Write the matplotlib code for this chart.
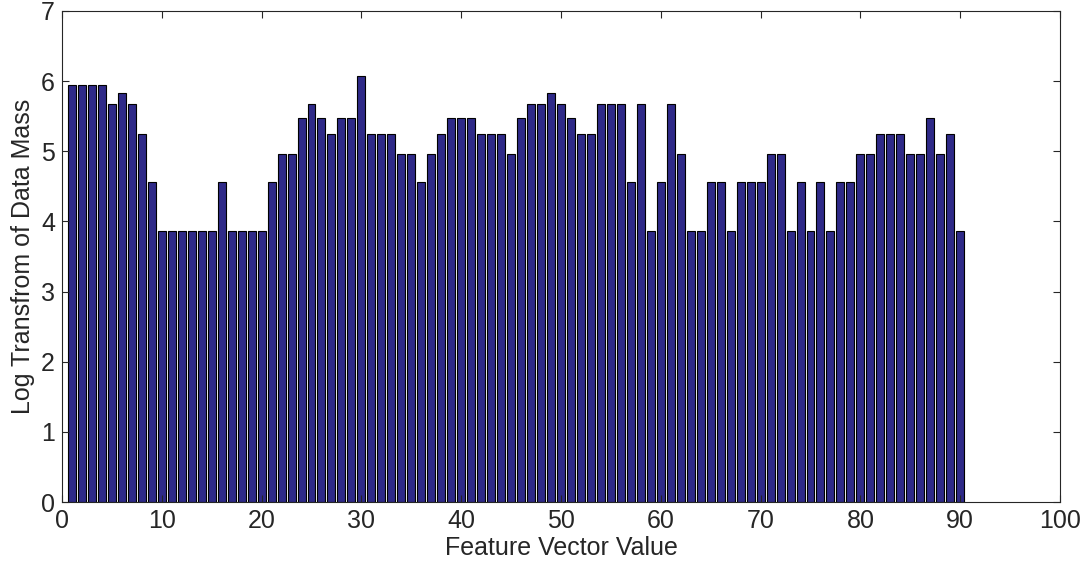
import matplotlib
matplotlib.use("Agg")
import matplotlib.pyplot as plt
import numpy as np

# feature vector values 1..90 and log transform of data mass
feature_values = list(range(1, 91))
log_mass = [
    5.95, 5.95, 5.95, 5.95, 5.67, 5.83, 5.67, 5.25, 4.56, 3.87,
    3.87, 3.87, 3.87, 3.87, 3.87, 4.56, 3.87, 3.87, 3.87, 3.87,
    4.56, 4.96, 4.96, 5.48, 5.67, 5.48, 5.25, 5.48, 5.48, 6.07,
    5.25, 5.25, 5.25, 4.96, 4.96, 4.56, 4.96, 5.25, 5.48, 5.48,
    5.48, 5.25, 5.25, 5.25, 4.96, 5.48, 5.67, 5.67, 5.83, 5.67,
    5.48, 5.25, 5.25, 5.67, 5.67, 5.67, 4.56, 5.67, 3.87, 4.56,
    5.67, 4.96, 3.87, 3.87, 4.56, 4.56, 3.87, 4.56, 4.56, 4.56,
    4.96, 4.96, 3.87, 4.56, 3.87, 4.56, 3.87, 4.56, 4.56, 4.96,
    4.96, 5.25, 5.25, 5.25, 4.96, 4.96, 5.48, 4.96, 5.25, 3.87,
]

plt.rcParams['font.family'] = ['Liberation Sans', 'DejaVu Sans']

fig = plt.figure(figsize=(10.85, 5.65), dpi=100)
ax = fig.add_axes([62 / 1085, 1 - 502 / 565, (1060 - 62) / 1085, (502 - 11) / 565])

ax.bar(feature_values, log_mass, width=0.8, color='#2f2a88', edgecolor='black', linewidth=0.8)

ax.set_xlim(0, 100)
ax.set_ylim(0, 7)
ax.set_xticks(np.arange(0, 101, 10))
ax.set_yticks(np.arange(0, 8, 1))
ax.tick_params(direction='in', top=True, right=True, labelsize=18, length=5, colors='#262626', pad=5)
for s in ax.spines.values():
    s.set_color('#262626')
    s.set_linewidth(0.8)

ax.set_xlabel('Feature Vector Value', fontsize=18, color='#262626', labelpad=2)
ax.set_ylabel('Log Transfrom of Data Mass', fontsize=18, color='#262626', labelpad=4)

fig.savefig('out.png', dpi=100)
